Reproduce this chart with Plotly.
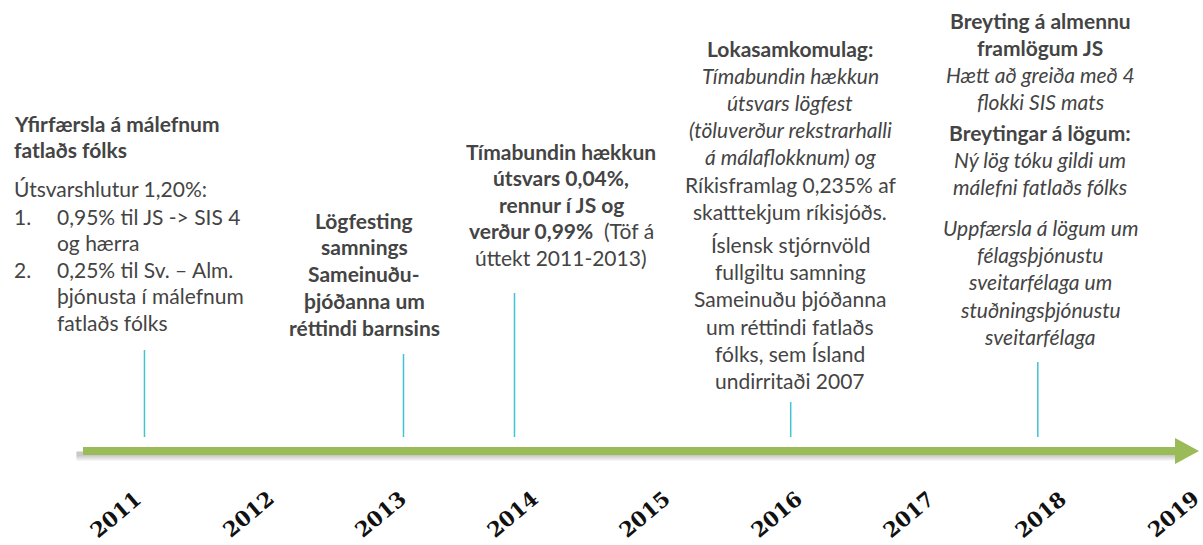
import plotly.graph_objects as go

# ---------------- data ----------------
YEARS = [2011, 2012, 2013, 2014, 2015, 2016, 2017, 2018, 2019]
YEAR_LABELS = [str(y) for y in YEARS]

# positions of the event markers on the time axis
EVENT_POS = [2011.22, 2013.18, 2014.02, 2016.11, 2017.98]
EVENT_NAMES = ["2011", "2013", "2014", "2016", "2018"]

TIMELINE_START = 2010.755
TIMELINE_END = 2019.20

TEXT_2011_HEAD = ["<b>Yfirfærsla á málefnum</b>", "<b>fatlaðs fólks</b>"]
TEXT_2011_SUB = ["Útsvarshlutur 1,20%:"]
TEXT_2011_LIST_NUM = ["1.", "", "2.", "", ""]
TEXT_2011_LIST = ["0,95% til JS -&gt; SIS 4", "og hærra", "0,25% til Sv. – Alm.",
                  "þjónusta í málefnum", "fatlaðs fólks"]

TEXT_2013 = [["<b>Lögfesting</b>", "<b>samnings</b>", "<b>Sameinuðu-</b>",
              "<b>þjóðanna um</b>", "<b>réttindi barnsins</b>"]]

TEXT_2014 = [["<b>Tímabundin hækkun</b>", "<b>útsvars 0,04%,</b>", "<b>rennur í JS og</b>",
              "<b>verður 0,99%</b>&nbsp; (Töf á", "úttekt 2011-2013)"]]

TEXT_2016 = [["<b>Lokasamkomulag:</b>", "<i>Tímabundin hækkun</i>", "<i>útsvars lögfest</i>",
              "<i>(töluverður rekstrarhalli</i>", "<i>á málaflokknum) og</i>",
              "Ríkisframlag 0,235% af", "skatttekjum ríkisjóðs."],
             ["Íslensk stjórnvöld", "fullgiltu samning", "Sameinuðu þjóðanna",
              "um réttindi fatlaðs", "fólks, sem Ísland", "undirritaði 2007"]]

TEXT_2018 = [["<b>Breyting á almennu</b>", "<b>framlögum JS</b>", "<i>Hætt að greiða með 4</i>",
              "<i>flokki SIS mats</i>"],
             ["<b>Breytingar á lögum:</b>",
              "<i>Ný lög tóku gildi um</i>", "<i>málefni fatlaðs fólks</i>"],
             ["<i>Uppfærsla á lögum um</i>", "<i>félagsþjónustu</i>", "<i>sveitarfélaga um</i>",
              "<i>stuðningsþjónustu</i>", "<i>sveitarfélaga</i>"]]

# ---------------- layout / style ----------------
W, H = 1203, 545
PX0, PX_PER_YEAR = 115.4, 132.15          # pixel of 2011, pixels per year
X_RANGE = [2011 - PX0 / PX_PER_YEAR, 2011 + (W - PX0) / PX_PER_YEAR]

LINE_Y = 451
TICK_BOTTOM = 437
TICK_TOPS = [350, 354, 293, 402, 362]
YEAR_LABEL_Y = 514

GREEN = "#9BBB59"
CYAN = "#42C3D2"
TXT = "#444444"
FONT = "Lato"
FS = 21

fig = go.Figure()

# shadow under the timeline
for dy, w, a in [(5, 9, 0.07), (4, 7, 0.08), (3, 5, 0.08)]:
    fig.add_trace(go.Scatter(x=[TIMELINE_START - 0.05, TIMELINE_END - 0.12],
                             y=[LINE_Y + dy, LINE_Y + dy], mode="lines",
                             line=dict(color=f"rgba(0,0,0,{a})", width=w),
                             hoverinfo="skip"))

# timeline shaft
shaft_end = TIMELINE_END - 24 / PX_PER_YEAR
fig.add_trace(go.Scatter(x=[TIMELINE_START, shaft_end], y=[LINE_Y, LINE_Y],
                         mode="lines", line=dict(color=GREEN, width=8), hoverinfo="skip"))
# arrow head
fig.add_trace(go.Scatter(x=[shaft_end, TIMELINE_END, shaft_end, shaft_end],
                         y=[LINE_Y - 13, LINE_Y, LINE_Y + 13, LINE_Y - 13],
                         mode="lines", fill="toself", fillcolor=GREEN,
                         line=dict(color=GREEN, width=0), hoverinfo="skip"))

# event ticks
for xp, top in zip(EVENT_POS, TICK_TOPS):
    fig.add_trace(go.Scatter(x=[xp, xp], y=[top, TICK_BOTTOM], mode="lines",
                             line=dict(color=CYAN, width=1.5), hoverinfo="skip"))

# year labels
for yr, lab in zip(YEARS, YEAR_LABELS):
    fig.add_annotation(x=yr, y=YEAR_LABEL_Y, xref="x", yref="y", text=f"<b>{lab}</b>",
                       showarrow=False, textangle=-40,
                       font=dict(family="DejaVu Serif", size=21, color="#111111"))


def add_line(text, px, py, align="center"):
    fig.add_annotation(x=px / W, y=py, xref="paper", yref="y", text=text,
                       showarrow=False, xanchor=align, yanchor="middle",
                       font=dict(family=FONT, size=FS, color=TXT))


def add_block(paras, cx, top, step, gaps):
    y = top
    for i, para in enumerate(paras):
        for line in para:
            add_line(line, cx, y)
            y += step
        if i < len(gaps):
            y += gaps[i]


# 2011 block (left aligned with numbered list)
y = 123
for line in TEXT_2011_HEAD:
    add_line(line, 12, y, "left"); y += 26.5
y += 12
for line in TEXT_2011_SUB:
    add_line(line, 12, y, "left"); y += 26.5
y += 1.5
for num, line in zip(TEXT_2011_LIST_NUM, TEXT_2011_LIST):
    if num:
        add_line(num, 12, y, "left")
    add_line(line, 55, y, "left"); y += 26.5

add_block(TEXT_2013, 364, 220, 26.8, [])
add_block(TEXT_2014, 561, 151, 26.6, [])
add_block(TEXT_2016, 790, 48, 27.2, [6])
add_block(TEXT_2018, 1040, 20, 27.1, [4, 14])

fig.update_layout(
    width=W, height=H, margin=dict(l=0, r=0, t=0, b=0),
    paper_bgcolor="white", plot_bgcolor="white", showlegend=False,
    xaxis=dict(range=X_RANGE, visible=False, fixedrange=True),
    yaxis=dict(range=[H, 0], visible=False, fixedrange=True),
)

fig.write_html("out.html", config={"displayModeBar": False},
               post_script="document.body.style.margin='0';document.body.style.overflow='hidden';")
